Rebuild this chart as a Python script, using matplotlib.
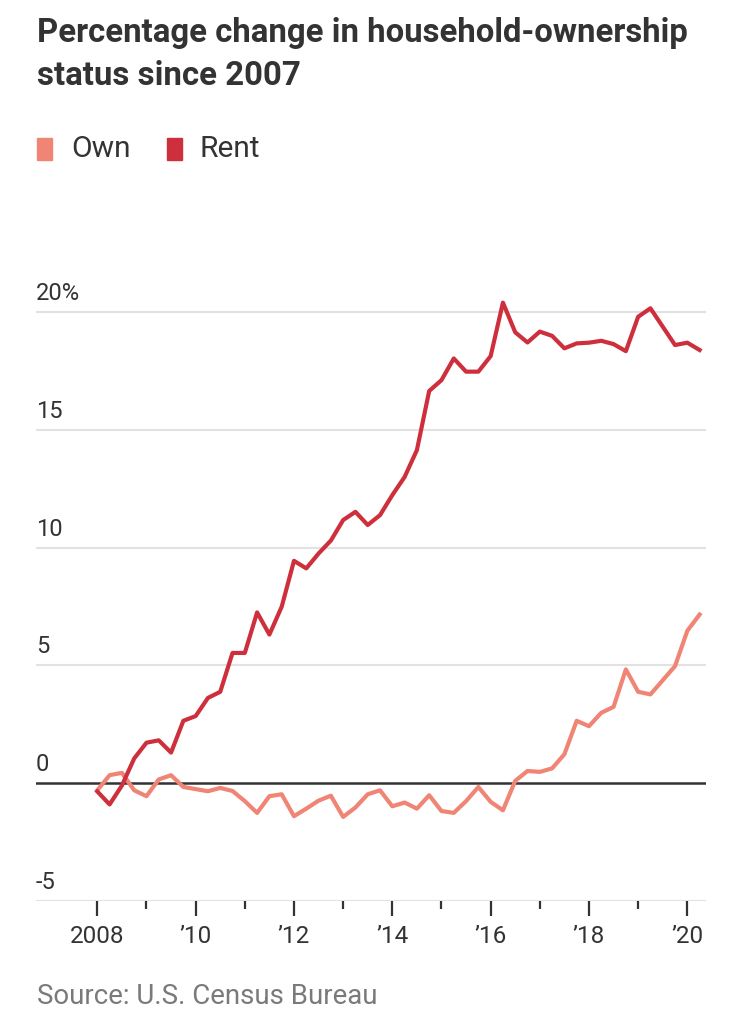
import numpy as np
import matplotlib
matplotlib.use("Agg")
import matplotlib.pyplot as plt
from matplotlib.patches import Rectangle

# quarterly, 2008 Q1 .. 2020 Q2
years = 2008 + np.arange(50) * 0.25

own = [-0.30, 0.34, 0.44, -0.30, -0.55, 0.16, 0.34, -0.16, -0.25, -0.34,
       -0.20, -0.33, -0.76, -1.26, -0.55, -0.47, -1.40, -1.08, -0.74, -0.53,
       -1.43, -1.03, -0.47, -0.30, -0.98, -0.82, -1.08, -0.51, -1.18, -1.26,
       -0.76, -0.16, -0.79, -1.15, 0.10, 0.52, 0.48, 0.63, 1.23, 2.65,
       2.42, 2.99, 3.24, 4.83, 3.88, 3.77, 4.37, 4.97, 6.47, 7.16]

rent = [-0.35, -0.90, -0.10, 1.05, 1.72, 1.82, 1.30, 2.65, 2.85, 3.62,
        3.88, 5.53, 5.53, 7.25, 6.31, 7.49, 9.44, 9.12, 9.75, 10.30,
        11.17, 11.52, 10.96, 11.38, 12.23, 13.00, 14.14, 16.65, 17.11, 18.03,
        17.47, 17.47, 18.13, 20.40, 19.14, 18.71, 19.17, 18.99, 18.46, 18.67,
        18.70, 18.78, 18.64, 18.34, 19.80, 20.16, 19.38, 18.60, 18.70, 18.39]

y_ticks = [-5, 0, 5, 10, 15, 20]
y_labels = ['-5', '0', '5', '10', '15', '20%']
x_major = [2008, 2010, 2012, 2014, 2016, 2018, 2020]
x_labels = ['2008', '\u201910', '\u201912', '\u201914', '\u201916', '\u201918', '\u201920']
x_minor = [2009, 2011, 2013, 2015, 2017, 2019]

own_color = '#f08575'
rent_color = '#cd303c'
text_color = '#333333'

W, H = 742, 1023
fig = plt.figure(figsize=(W / 100, H / 100), dpi=100)

# axes in pixel coords
left, right, bottom, top = 36, 705.7, 901, 288.5
ax = fig.add_axes([left / W, (H - bottom) / H, (right - left) / W, (bottom - top) / H])
ax.set_xlim(2006.753, 2020.374)
ax.set_ylim(-5, 21)
for s in ax.spines.values():
    s.set_visible(False)

for v in y_ticks:
    if v == 0:
        ax.axhline(v, color='#333333', lw=1.8, zorder=3)
    else:
        ax.axhline(v, color='#e2e2e2', lw=1.5, zorder=1)

ax.plot(years, own, color=own_color, lw=3.0, zorder=4)
ax.plot(years, rent, color=rent_color, lw=3.0, zorder=5)

ax.set_yticks([])
for v, lab in zip(y_ticks, y_labels):
    ax.text(0, v + 0.3, lab, transform=ax.get_yaxis_transform(),
            ha='left', va='bottom', fontsize=17, color=text_color,
            family='Roboto')

ax.set_xticks(x_major)
ax.set_xticklabels(x_labels)
ax.set_xticks(x_minor, minor=True)
ax.tick_params(axis='x', which='major', length=11, width=1.6, color='#333333',
               labelsize=17.5, labelcolor=text_color, pad=6)
ax.tick_params(axis='x', which='minor', length=6, width=1.6, color='#333333')
for t in ax.get_xticklabels():
    t.set_family('Roboto')

fig.canvas.draw()
renderer = fig.canvas.get_renderer()


def fit_text(x, y, s, width_px, **kw):
    t = fig.text(x / W, 1 - y / H, s, **kw)
    fs = t.get_fontsize()
    w = t.get_window_extent(renderer).width
    t.set_fontsize(fs * width_px / w)
    return t


fit_text(37, 33, 'Percentage change in household-ownership', 651, fontsize=22,
         fontweight='bold', family='Roboto', color=text_color, va='center')
fit_text(37, 76, 'status since 2007', 264, fontsize=22,
         fontweight='bold', family='Roboto', color=text_color, va='center')

# legend
fig.patches.append(Rectangle((37 / W, 1 - 160 / H), 15 / W, 22 / H,
                             transform=fig.transFigure, color=own_color))
fig.text(71 / W, 1 - 149 / H, 'Own', fontsize=21.5, family='Roboto',
         color=text_color, va='center')
fig.patches.append(Rectangle((167 / W, 1 - 160 / H), 15 / W, 22 / H,
                             transform=fig.transFigure, color=rent_color))
fig.text(200 / W, 1 - 149 / H, 'Rent', fontsize=21.5, family='Roboto',
         color=text_color, va='center')

fit_text(37, 997, 'Source: U.S. Census Bureau', 341, fontsize=17,
         family='Roboto', color='#7a7a7a', va='center')

fig.savefig('out.png', dpi=100)
